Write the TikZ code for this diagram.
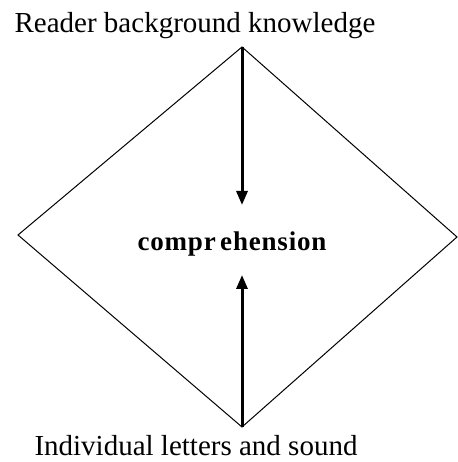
\documentclass[tikz,border=0pt]{standalone}
\usepackage{fontspec}
\setmainfont{Liberation Serif}
\usetikzlibrary{arrows.meta}
\begin{document}
\begin{tikzpicture}[x=1pt,y=1pt,
  edge/.style={line width=1pt,line join=miter},
  flow/.style={line width=3pt,-{Triangle[length=14pt,width=11pt]}},
  lbl/.style={inner sep=0pt,anchor=base,font=\fontsize{29}{30}\selectfont},
  core/.style={inner sep=0pt,anchor=base,font=\fontsize{27}{30}\selectfont\bfseries\addfontfeature{LetterSpace=3}}]
\useasboundingbox (0,0) rectangle (457,462);
\coordinate (top) at (242,415);
\coordinate (left) at (18,227);
\coordinate (right) at (457,225);
\coordinate (bottom) at (242,35);
\coordinate (downend) at (242,257);
\coordinate (upend) at (242,187);
\draw[edge] (top) -- (right) -- (bottom) -- (left) -- cycle;
\draw[flow] (top) -- (downend);
\draw[flow] (bottom) -- (upend);
\node[core] (comp) at (232,211) {compr\,ehension};
\node[lbl] (reader) at (195,429) {Reader background knowledge};
\node[lbl] (indiv) at (196,6) {Individual letters and sound};
\end{tikzpicture}
\end{document}
